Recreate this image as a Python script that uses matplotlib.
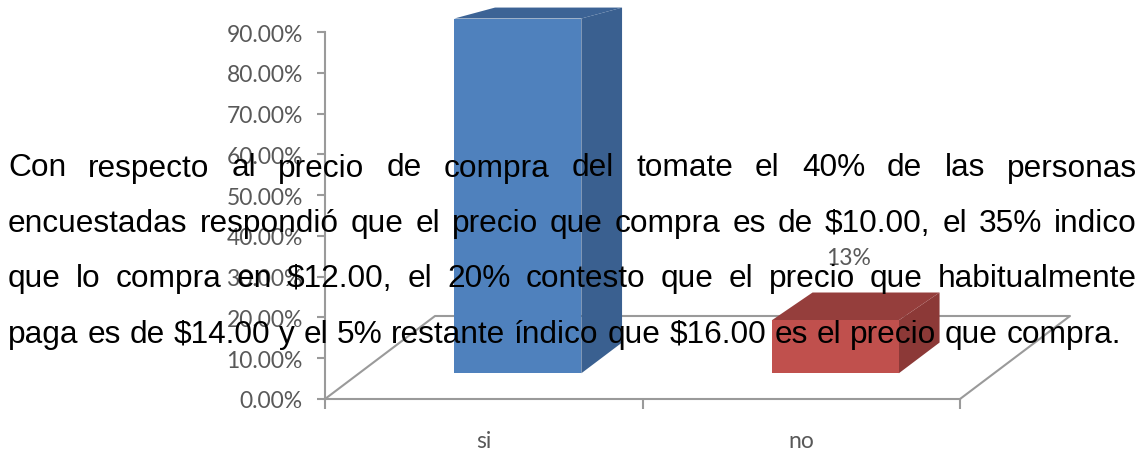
import matplotlib
matplotlib.use("Agg")
import matplotlib.pyplot as plt
from matplotlib.patches import Polygon
from matplotlib.ticker import PercentFormatter

# chart data
categories = ["si", "no"]
values = [0.87, 0.13]
labels = ["", "13%"]
y_max = 0.9
y_step = 0.1

# paragraph laid over the chart
paragraph = [
    "Con respecto al precio de compra del tomate el 40% de las personas",
    "encuestadas respondió que el precio que compra es de $10.00, el 35% indico",
    "que lo compra en $12.00, el 20% contesto que el precio que habitualmente",
    "paga es de $14.00 y el 5% restante índico que $16.00 es el precio que compra.",
]

W, H = 1146, 456
fig = plt.figure(figsize=(W / 100, H / 100), dpi=100)
ax = fig.add_axes([325 / W, 56 / H, 635 / W, 367 / H])
ax.set_xlim(0, len(categories))
ax.set_ylim(0, y_max)

# fake 3d: depth offsets in data units
DX = 110 / 635 * len(categories)
DY = 83 / 367 * y_max
SHRINK = 0.74
zf, zb, bw = 0.31, 0.68, 0.4


def proj(x, y, z):
    # depth gets flatter toward the top of tall bars (rough perspective)
    return x + z * DX, y + DY * (z - (z - zf) * SHRINK * y)


grey = "#9a9a9a"
# floor
floor = [proj(0, 0, 0), proj(0, 0, 1), proj(2, 0, 1), proj(2, 0, 0)]
ax.plot([p[0] for p in floor], [p[1] for p in floor], color=grey, lw=1.5,
        clip_on=False, zorder=1)

colors = [("#4f81bd", "#3a6090", "#3c6395"), ("#c0504d", "#8c3937", "#953e3c")]
for i, v in enumerate(values):
    c = i + 0.5
    x0, x1 = c - bw / 2, c + bw / 2
    front, side, top = colors[i]
    pts_front = [proj(x0, 0, zf), proj(x1, 0, zf), proj(x1, v, zf), proj(x0, v, zf)]
    pts_side = [proj(x1, 0, zf), proj(x1, 0, zb), proj(x1, v, zb), proj(x1, v, zf)]
    pts_top = [proj(x0, v, zf), proj(x1, v, zf), proj(x1, v, zb), proj(x0, v, zb)]
    for pts, col in [(pts_side, side), (pts_top, top), (pts_front, front)]:
        ax.add_patch(Polygon(pts, closed=True, facecolor=col, edgecolor="none",
                             clip_on=False, zorder=3))
    if labels[i]:
        lx, ly = proj(c, v, (zf + zb) / 2)
        ax.annotate(labels[i], (lx, ly), xytext=(-5, 35), textcoords="offset points",
                    ha="center", va="center", fontsize=16.5, color="#595959",
                    family="Lato", annotation_clip=False)

for s in ["top", "right"]:
    ax.spines[s].set_visible(False)
for s in ["left", "bottom"]:
    ax.spines[s].set_color(grey)
    ax.spines[s].set_linewidth(1.5)

ax.set_yticks([k * y_step for k in range(10)])
ax.yaxis.set_major_formatter(PercentFormatter(1.0, decimals=2))
ax.tick_params(axis="y", length=6, width=1.5, color=grey, pad=10, labelsize=16.5,
               labelcolor="#595959")
ax.set_xticks(range(len(categories) + 1))
ax.set_xticklabels([])
ax.set_xticks([i + 0.5 for i in range(len(categories))], minor=True)
ax.set_xticklabels(categories, minor=True)
ax.tick_params(axis="x", which="major", length=7, width=1.5, color=grey)
ax.tick_params(axis="x", which="minor", length=0, pad=22, labelsize=16.5,
               labelcolor="#595959")
for t in ax.get_yticklabels() + ax.get_xticklabels(minor=True):
    t.set_family("Lato")

# justified paragraph on top of the chart
fs = 22.8
renderer = fig.canvas.get_renderer()
left, right = 8, 1137
base0, line_gap = 176.5, 55.4


def text_width(s):
    t = fig.text(0, 0, s, fontsize=fs, family="Liberation Sans")
    w = t.get_window_extent(renderer).width
    t.remove()
    return w


for n, line in enumerate(paragraph):
    yb = 1 - (base0 + n * line_gap) / H
    words = line.split(" ")
    texts = [fig.text(0, yb, w, fontsize=fs, family="Liberation Sans",
                      color="black", va="baseline", ha="left", zorder=10)
             for w in words]
    widths = [t.get_window_extent(renderer).width for t in texts]
    if n < len(paragraph) - 1:
        gap = (right - left - sum(widths)) / (len(words) - 1)
    else:
        gap = text_width("a a") - text_width("aa")
    x = left
    for t, w in zip(texts, widths):
        t.set_x(x / W)
        x += w + gap

fig.savefig("out.png", dpi=100)
